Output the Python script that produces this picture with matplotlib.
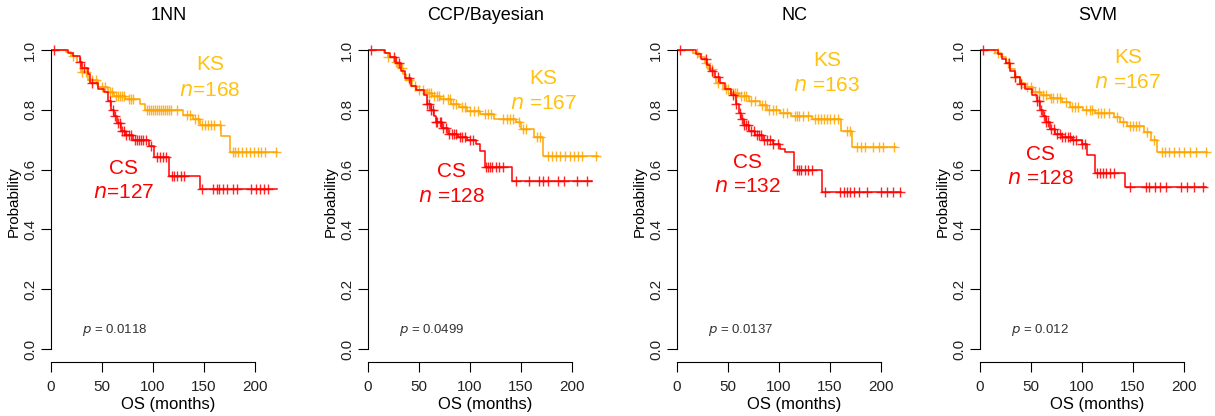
import numpy as np
import matplotlib.pyplot as plt

plt.rcParams['font.family'] = ['Liberation Sans', 'DejaVu Sans']

titles = ['1NN', 'CCP/Bayesian', 'NC', 'SVM']
ks_n_labels = ['$n$=168', '$n$ =167', '$n$ =163', '$n$ =167']
cs_n_labels = ['$n$=127', '$n$ =128', '$n$ =132', '$n$ =128']
p_labels = ['0.0118', '0.0499', '0.0137', '0.012']

# KS curves: event times (months) and survival after each event
ks_times = [
    [15, 20, 25, 29, 36, 46, 56, 62, 73, 87, 92, 129, 139, 146, 167, 175],
    [16, 20, 25, 29, 34, 37, 43, 48, 57, 63, 71, 81, 89, 97, 110, 124, 145, 150, 163, 172],
    [16, 22, 27, 30, 35, 38, 45, 53, 61, 71, 81, 88, 101, 112, 132, 161, 172],
    [15, 21, 25, 29, 34, 39, 44, 52, 60, 69, 80, 88, 101, 113, 131, 137, 144, 161, 168, 174],
]
ks_surv = [
    [0.993, 0.98, 0.96, 0.925, 0.90, 0.875, 0.858, 0.847, 0.836, 0.82, 0.80, 0.782, 0.769, 0.749, 0.711, 0.66],
    [0.99, 0.975, 0.96, 0.94, 0.92, 0.90, 0.88, 0.865, 0.855, 0.845, 0.835, 0.82, 0.81, 0.795, 0.785, 0.77, 0.76, 0.735, 0.71, 0.645],
    [0.99, 0.975, 0.955, 0.935, 0.91, 0.89, 0.87, 0.855, 0.845, 0.83, 0.815, 0.80, 0.79, 0.78, 0.77, 0.73, 0.674],
    [0.99, 0.975, 0.955, 0.935, 0.91, 0.89, 0.875, 0.86, 0.85, 0.84, 0.825, 0.81, 0.80, 0.79, 0.775, 0.76, 0.745, 0.725, 0.70, 0.66],
]
ks_cens = [
    [22, 30, 34, 40, 44, 50, 53, 58, 60, 64, 66, 68, 70, 72, 76, 78, 80, 94, 96, 98, 100, 102, 104, 106, 108,
     110, 112, 114, 116, 118, 124, 133, 136, 141, 144, 148, 151, 154, 157, 160, 166, 178, 180, 183, 187, 191,
     195, 199, 203, 206, 210, 221],
    [20, 27, 33, 40, 46, 50, 54, 58, 60, 62, 65, 68, 70, 74, 78, 80, 83, 86, 92, 95, 100, 104, 108, 115, 118,
     121, 132, 136, 139, 142, 148, 152, 155, 166, 169, 176, 180, 184, 188, 193, 198, 202, 206, 210, 224],
    [20, 28, 34, 40, 48, 50, 55, 57, 59, 63, 66, 68, 73, 76, 83, 86, 90, 94, 97, 104, 108, 116, 118, 120, 124,
     128, 135, 138, 141, 144, 147, 150, 154, 158, 167, 170, 176, 180, 184, 192, 198, 202, 213],
    [18, 27, 34, 40, 46, 50, 54, 58, 62, 65, 70, 72, 75, 78, 84, 90, 93, 96, 104, 108, 110, 116, 119, 122,
     126, 134, 140, 147, 150, 153, 156, 164, 171, 178, 181, 185, 190, 195, 200, 206, 212, 222],
]
ks_end = [222, 225, 215, 223]

# CS curves
cs_times = [
    [17, 22, 28, 30, 36, 38, 46, 52, 56, 59, 62, 65, 69, 73, 80, 96, 101, 116, 146],
    [17, 22, 27, 32, 36, 42, 47, 55, 58, 62, 65, 67, 73, 78, 88, 97, 106, 110, 115, 141],
    [19, 24, 29, 32, 37, 42, 47, 53, 58, 61, 63, 66, 71, 76, 84, 94, 101, 106, 115, 142],
    [18, 22, 25, 29, 34, 39, 44, 51, 56, 59, 62, 65, 69, 74, 80, 90, 100, 105, 113, 142],
]
cs_surv = [
    [0.99, 0.98, 0.96, 0.94, 0.92, 0.89, 0.87, 0.86, 0.83, 0.80, 0.78, 0.757, 0.73, 0.715, 0.70, 0.68, 0.643, 0.578, 0.535],
    [0.99, 0.975, 0.955, 0.93, 0.905, 0.88, 0.865, 0.85, 0.82, 0.80, 0.78, 0.76, 0.74, 0.72, 0.71, 0.70, 0.686, 0.663, 0.608, 0.563],
    [0.985, 0.97, 0.95, 0.93, 0.91, 0.89, 0.87, 0.85, 0.82, 0.79, 0.77, 0.75, 0.73, 0.715, 0.70, 0.685, 0.67, 0.66, 0.60, 0.525],
    [0.985, 0.97, 0.955, 0.93, 0.91, 0.885, 0.87, 0.85, 0.83, 0.80, 0.78, 0.76, 0.735, 0.72, 0.71, 0.70, 0.685, 0.65, 0.587, 0.543],
]
cs_cens = [
    [3, 28, 32, 40, 58, 61, 63, 66, 68, 70, 72, 74, 76, 78, 82, 84, 86, 88, 90, 93, 98, 104, 107, 110,
     113, 119, 121, 124, 127, 130, 148, 159, 163, 165, 169, 173, 178, 182, 196, 201, 205, 209, 213],
    [3, 25, 30, 40, 58, 60, 62, 64, 67, 68, 71, 72, 74, 76, 79, 82, 84, 86, 90, 92, 95, 100, 103, 116, 118,
     120, 122, 125, 128, 132, 145, 158, 168, 172, 176, 186, 192, 205, 215],
    [3, 28, 34, 40, 55, 58, 62, 64, 66, 68, 70, 73, 75, 78, 80, 82, 85, 88, 91, 94, 99, 118, 120, 122, 125,
     128, 132, 145, 160, 164, 167, 170, 174, 178, 186, 200, 206, 212, 219],
    [3, 28, 34, 40, 56, 58, 60, 63, 65, 67, 70, 73, 75, 78, 80, 83, 86, 88, 91, 94, 100, 103, 115, 118, 121,
     124, 127, 131, 147, 163, 166, 172, 176, 182, 197, 203, 210, 219],
]
cs_end = [222, 220, 220, 222]

# label anchors (months, probability)
ks_label_pos = [(156, 0.95), (172, 0.905), (147, 0.965), (145, 0.975)]
cs_label_pos = [(71, 0.605), (82, 0.592), (69, 0.625), (59, 0.652)]

KS_LINE = '#FFA500'
KS_TEXT = '#FFC20E'
CS_COL = '#FF0000'

panel_left = [51, 368, 677, 980]
W, H = 1215, 416


def step_xy(times, surv, end):
    x = np.concatenate([[0], times, [end]])
    y = np.concatenate([[1.0], surv, [surv[-1]]])
    return x, y


def surv_at(times, surv, t):
    idx = np.searchsorted(times, t, side='right')
    vals = np.concatenate([[1.0], surv])
    return vals[idx]


fig = plt.figure(figsize=(W / 100, H / 100), dpi=100)

for i in range(4):
    left = panel_left[i] / W
    ax = fig.add_axes([left, 54 / H, 234.6 / W, (375 - 54) / H])
    ax.set_xlim(0, 230)
    ax.set_ylim(-0.0435, 1.03)

    for times, surv, cens, end, col in [
        (ks_times[i], ks_surv[i], ks_cens[i], ks_end[i], KS_LINE),
        (cs_times[i], cs_surv[i], cs_cens[i], cs_end[i], CS_COL),
    ]:
        t = np.array(times, dtype=float)
        s = np.array(surv, dtype=float)
        x, y = step_xy(t, s, end)
        ax.step(x, y, where='post', color=col, lw=1.1)
        c = np.array(cens, dtype=float)
        ax.plot(c, surv_at(t, s, c), ls='none', marker='+', ms=7, mew=1.0,
                color=col, alpha=0.85)

    kx, ky = ks_label_pos[i]
    ax.text(kx, ky, 'KS', color=KS_TEXT, fontsize=15, ha='center', va='center')
    ax.text(kx, ky - 0.085, ks_n_labels[i], color=KS_TEXT, fontsize=15,
            ha='center', va='center')
    cx, cy = cs_label_pos[i]
    ax.text(cx, cy, 'CS', color=CS_COL, fontsize=15, ha='center', va='center')
    ax.text(cx, cy - 0.082, cs_n_labels[i], color=CS_COL, fontsize=15,
            ha='center', va='center')
    ax.text(30, 0.065, '$p$ = ' + p_labels[i], color='#333333', fontsize=9.5,
            ha='left', va='center')

    ax.spines['top'].set_visible(False)
    ax.spines['right'].set_visible(False)
    ax.spines['left'].set_bounds(0, 1)
    ax.spines['bottom'].set_bounds(0, 200)
    ax.set_xticks([0, 50, 100, 150, 200])
    ax.set_yticks([0.0, 0.2, 0.4, 0.6, 0.8, 1.0])
    ax.set_yticklabels(['0.0', '0.2', '0.4', '0.6', '0.8', '1.0'],
                       rotation=90, va='center')
    ax.tick_params(axis='both', direction='out', length=7, labelsize=11,
                   labelcolor='#222222')
    ax.tick_params(axis='x', pad=6)
    ax.tick_params(axis='y', pad=3)
    ax.set_xlabel('OS (months)', fontsize=12, labelpad=2)
    ax.set_ylabel('Probability', fontsize=11, labelpad=2)
    ax.set_title(titles[i], fontsize=13, pad=15)

fig.savefig('out.png', dpi=100)
